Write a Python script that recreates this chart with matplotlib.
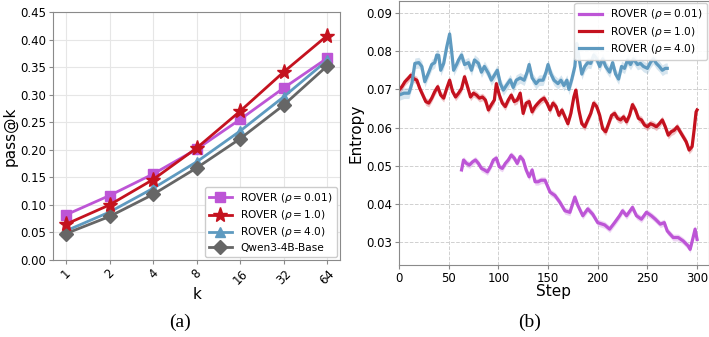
import matplotlib
matplotlib.use("Agg")
import matplotlib.pyplot as plt
import numpy as np

# ---------------- data (a) ----------------
k_labels = ["1", "2", "4", "8", "16", "32", "64"]
rover_001 = [0.082, 0.117, 0.156, 0.201, 0.255, 0.312, 0.366]
rover_10 = [0.065, 0.100, 0.146, 0.203, 0.270, 0.341, 0.407]
rover_40 = [0.053, 0.087, 0.130, 0.178, 0.234, 0.296, 0.362]
qwen_base = [0.048, 0.079, 0.119, 0.167, 0.220, 0.281, 0.352]

# ---------------- data (b) ----------------
steps_40 = [0, 5, 10, 13, 16, 20, 23, 26, 30, 33, 36, 38, 40, 42, 45, 48, 51, 53, 55, 58,
            60, 63, 66, 70, 73, 76, 80, 83, 86, 90, 93, 96, 99, 102, 105, 108, 112, 115, 118, 122,
            126, 129, 131, 134, 138, 141, 145, 148, 150, 153, 156, 160, 163, 166, 169, 171, 174, 177, 179, 181,
            184, 187, 190, 193, 196, 199, 202, 205, 208, 212, 215, 218, 221, 224, 227, 230, 233, 236, 240, 243,
            246, 250, 253, 256, 259, 262, 265, 268, 270]
ent_40 = [0.0685, 0.069, 0.069, 0.0715, 0.0768, 0.077, 0.076, 0.072, 0.0745, 0.0765, 0.077, 0.079, 0.0789, 0.075, 0.0768, 0.081, 0.0845, 0.080, 0.075, 0.0765,
          0.0777, 0.079, 0.0765, 0.077, 0.075, 0.0777, 0.0768, 0.0745, 0.076, 0.0742, 0.0724, 0.0737, 0.075, 0.0715, 0.0698, 0.071, 0.0725, 0.0705, 0.0724, 0.073,
          0.0724, 0.0745, 0.0765, 0.073, 0.0715, 0.0724, 0.0724, 0.0745, 0.0765, 0.074, 0.0724, 0.0715, 0.0724, 0.071, 0.0724, 0.070, 0.0727, 0.076, 0.082, 0.0785,
          0.074, 0.076, 0.077, 0.0768, 0.079, 0.078, 0.076, 0.078, 0.076, 0.0745, 0.077, 0.074, 0.0727, 0.076, 0.0755, 0.0777, 0.0765, 0.078, 0.0765, 0.0768,
          0.076, 0.0755, 0.077, 0.078, 0.0768, 0.076, 0.075, 0.0755, 0.0755]

steps_10 = [0, 3, 6, 9, 12, 15, 18, 21, 24, 27, 30, 33, 36, 39, 42, 45, 48, 51, 54, 57,
            60, 63, 66, 69, 72, 75, 78, 81, 84, 87, 90, 93, 96, 98, 101, 104, 107, 110, 113, 116,
            119, 122, 125, 128, 131, 134, 137, 140, 143, 146, 149, 152, 155, 158, 161, 164, 167, 170, 173, 176,
            178, 181, 184, 187, 190, 193, 196, 199, 202, 205, 208, 211, 214, 217, 220, 223, 226, 229, 232, 235,
            238, 241, 244, 247, 250, 253, 256, 259, 262, 265, 268, 271, 274, 277, 280, 283, 286, 289, 292, 295,
            297, 299, 300]
ent_10 = [0.0698, 0.0707, 0.072, 0.0728, 0.0737, 0.0728, 0.0724, 0.0702, 0.0685, 0.0668, 0.0664, 0.0677, 0.0694, 0.0707, 0.0685, 0.0677, 0.0702, 0.0724, 0.0694, 0.068,
          0.069, 0.0702, 0.0733, 0.0707, 0.068, 0.069, 0.0685, 0.0677, 0.068, 0.0672, 0.0646, 0.066, 0.0672, 0.0715, 0.0685, 0.0664, 0.0655, 0.0672, 0.0685, 0.0668,
          0.0672, 0.069, 0.0637, 0.0664, 0.0668, 0.0641, 0.0655, 0.0664, 0.0672, 0.0677, 0.0664, 0.0646, 0.0664, 0.0655, 0.0632, 0.0646, 0.0628, 0.061, 0.0637, 0.068,
          0.0698, 0.0646, 0.061, 0.0602, 0.062, 0.0637, 0.0664, 0.0655, 0.0632, 0.0597, 0.0589, 0.061, 0.0632, 0.0637, 0.0624, 0.062, 0.0628, 0.0615, 0.0632, 0.066,
          0.0646, 0.0624, 0.062, 0.0607, 0.0602, 0.061, 0.0607, 0.0602, 0.061, 0.062, 0.0602, 0.058, 0.0589, 0.0593, 0.0602, 0.0589, 0.0576, 0.0563, 0.0541, 0.055,
          0.0593, 0.0641, 0.0646]

steps_001 = [63, 65, 68, 71, 74, 77, 80, 83, 86, 89, 92, 95, 98, 101, 104, 107, 110, 113, 116, 119,
             122, 125, 128, 131, 134, 137, 140, 143, 147, 152, 157, 162, 167, 172, 177, 180, 185, 190, 195, 200,
             207, 212, 217, 222, 225, 229, 235, 239, 244, 249, 254, 258, 263, 267, 270, 276, 281, 286, 291, 293,
             296, 298, 300]
ent_001 = [0.0489, 0.0515, 0.0506, 0.0502, 0.051, 0.0515, 0.0506, 0.0493, 0.0489, 0.0484, 0.0497, 0.0515, 0.052, 0.0497, 0.0493, 0.0506, 0.0515, 0.0528, 0.052, 0.0506,
           0.0524, 0.0515, 0.0489, 0.0471, 0.0489, 0.0458, 0.0458, 0.0462, 0.0462, 0.0431, 0.0422, 0.0404, 0.0382, 0.0378, 0.0418, 0.0396, 0.0369, 0.0387, 0.0373, 0.0351,
           0.0345, 0.0334, 0.0351, 0.0369, 0.0382, 0.0369, 0.0391, 0.0369, 0.036, 0.0378, 0.0369, 0.036, 0.0347, 0.0351, 0.0329, 0.0312, 0.0312, 0.0303, 0.029, 0.0281,
           0.0312, 0.0334, 0.0307]

band_40 = 0.0014
band_10 = 0.0010
band_001 = 0.0009

# ---------------- styles ----------------
C_PURPLE = "#bd55d6"
C_RED = "#c4121f"
C_BLUE = "#5e9ac0"
C_GREY = "#666666"
SPINE = "#8a8a8a"

plt.rcParams["font.family"] = ["DejaVu Sans"]
plt.rcParams["mathtext.fontset"] = "dejavusans"

fig = plt.figure(figsize=(7.09, 3.37), dpi=100)

# ---------------- (a) ----------------
ax1 = fig.add_axes([0.0748, 0.2285, 0.405, 0.736])
x = np.arange(len(k_labels))
ax1.plot(x, rover_001, color=C_PURPLE, marker="s", ms=7.5, lw=2, label=r"ROVER ($\rho=0.01$)", zorder=3)
ax1.plot(x, rover_10, color=C_RED, marker="*", ms=11, lw=2, label=r"ROVER ($\rho=1.0$)", zorder=4)
ax1.plot(x, rover_40, color=C_BLUE, marker="^", ms=7.5, lw=2, label=r"ROVER ($\rho=4.0$)", zorder=3)
ax1.plot(x, qwen_base, color=C_GREY, marker="D", ms=7, lw=2, label="Qwen3-4B-Base", zorder=3)
ax1.set_xlim(-0.3, 6.3)
ax1.set_ylim(0, 0.45)
ax1.set_yticks(np.arange(0, 0.451, 0.05))
ax1.set_yticklabels([f"{v:.2f}" for v in np.arange(0, 0.451, 0.05)])
ax1.set_xticks(x)
ax1.set_xticklabels(k_labels, rotation=45)
ax1.tick_params(labelsize=8.5, color=SPINE, length=3, pad=2)
ax1.set_xlabel("k", fontsize=11, labelpad=0)
ax1.set_ylabel("pass@k", fontsize=11, labelpad=2)
ax1.grid(True, color="#e6e6e6", lw=0.8)
ax1.set_axisbelow(True)
for s in ax1.spines.values():
    s.set_color(SPINE)
leg1 = ax1.legend(loc="lower right", fontsize=7.6, handlelength=2.2, borderaxespad=0.3,
                  labelspacing=0.3, framealpha=1, edgecolor="#cccccc")

# ---------------- (b) ----------------
ax2 = fig.add_axes([0.5627, 0.2136, 0.4373, 0.783])
for st, en, bw, col, lab in [
    (steps_001, ent_001, band_001, C_PURPLE, r"ROVER ($\rho=0.01$)"),
    (steps_10, ent_10, band_10, C_RED, r"ROVER ($\rho=1.0$)"),
    (steps_40, ent_40, band_40, C_BLUE, r"ROVER ($\rho=4.0$)"),
]:
    st = np.array(st)
    en = np.array(en)
    ax2.fill_between(st, en - bw, en + bw, color=col, alpha=0.25, lw=0)
    ax2.plot(st, en, color=col, lw=2.3, label=lab)
ax2.set_xlim(0, 312)
ax2.set_ylim(0.024, 0.0931)
ax2.set_xticks([0, 50, 100, 150, 200, 250, 300])
ax2.set_yticks([0.03, 0.04, 0.05, 0.06, 0.07, 0.08, 0.09])
ax2.set_yticklabels(["0.03", "0.04", "0.05", "0.06", "0.07", "0.08", "0.09"])
ax2.tick_params(labelsize=8.5, color=SPINE, length=3, pad=2)
ax2.set_xlabel("Step", fontsize=11, labelpad=-1)
ax2.set_ylabel("Entropy", fontsize=11, labelpad=2)
ax2.grid(True, color="#d0d0d0", lw=0.7, ls="--")
ax2.set_axisbelow(True)
for s in ax2.spines.values():
    s.set_color(SPINE)
ax2.legend(loc="upper right", fontsize=7.6, handlelength=2.2, borderaxespad=0.2,
           labelspacing=0.3, framealpha=0.9, edgecolor="#cccccc")

# captions
fig.text(180 / 709, 1 - 322 / 337, "(a)", fontsize=14, family=["Liberation Serif"], ha="center", va="center")
fig.text(530 / 709, 1 - 322 / 337, "(b)", fontsize=14, family=["Liberation Serif"], ha="center", va="center")

fig.savefig("out.png", dpi=100)
